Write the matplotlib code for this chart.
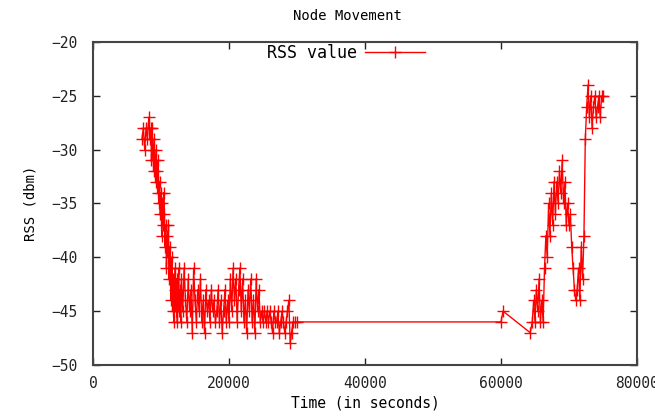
import matplotlib
matplotlib.use("Agg")
import matplotlib.pyplot as plt

title = "Node Movement"
x_label = "Time (in seconds)"
y_label = "RSS (dbm)"
series_label = "RSS value"
x_ticks = [0, 20000, 40000, 60000, 80000]
y_ticks = [-50, -45, -40, -35, -30, -25, -20]

time_s = [
    7200, 7400, 7600, 7800, 8000, 8200, 8300, 8400, 8500, 8600, 8700, 8800, 8900, 9000,
    9100, 9200, 9300, 9400, 9500, 9600, 9700, 9800, 9900, 10000, 10100, 10200, 10300,
    10400, 10500, 10600, 10700, 10800, 10900, 11000, 11100, 11200, 11300, 11400, 11500,
    11600, 11700, 11800, 11900, 12000, 12100, 12200, 12300, 12400, 12500, 12600, 12700,
    12800, 12900, 13000, 13200, 13400, 13600, 13800, 14000, 14200, 14400, 14600, 14800,
    15000, 15200, 15400, 15600, 15800, 16000, 16200, 16400, 16600, 16800, 17000, 17200,
    17400, 17600, 17800, 18000, 18200, 18400, 18600, 18800, 19000, 19200, 19400, 19600,
    19800, 20000, 20200, 20400, 20600, 20800, 21000, 21200, 21400, 21600, 21800, 22000,
    22200, 22400, 22600, 22800, 23000, 23200, 23400, 23600, 23800, 24000, 24200, 24400,
    24600, 24800, 25000, 25200, 25400, 25600, 25800, 26000, 26200, 26400, 26600, 26800,
    27000, 27200, 27400, 27600, 27800, 28000, 28200, 28400, 28600, 28800, 29000, 29200,
    29400, 29700, 30000, 60000, 60300,
    64300, 64600, 64800, 65000, 65200, 65400, 65600, 65800, 66000, 66200,
    66400, 66600, 66800, 67000, 67200, 67400, 67600, 67800, 68000, 68200,
    68400, 68600, 68800, 69000, 69200, 69400, 69600, 69800, 70000, 70200,
    70400, 70600, 70800, 71000, 71200, 71400, 71600, 71800, 72000, 72200,
    72400, 72600, 72800, 73000, 73200, 73400, 73600, 73800, 74000, 74200,
    74400, 74600, 74800, 75000,
]
rss_dbm = [
    -29, -28, -30, -28, -29, -27, -28, -29, -28, -31, -28, -30, -32, -29,
    -31, -33, -30, -32, -34, -31, -35, -33, -36, -34, -38, -35, -37,
    -34, -36, -39, -37, -41, -38, -40, -37, -42, -39, -41, -44,
    -40, -45, -42, -46, -43, -41, -45, -42, -46, -44, -41, -45,
    -43, -46, -42, -45, -41, -44, -46, -42, -45, -43, -47, -41,
    -44, -46, -43, -45, -42, -46, -44, -47, -43, -45, -44, -46,
    -43, -45, -44, -46, -45, -43, -46, -44, -47, -45, -43, -46,
    -44, -46, -42, -45, -41, -44, -42, -46, -43, -41, -45, -42,
    -46, -44, -47, -43, -45, -42, -46, -44, -47, -42, -45, -43,
    -46, -45, -46, -45, -46, -45, -46, -45, -46, -47, -45, -46,
    -46, -45, -47, -46, -45, -46, -47, -46, -45, -44, -48, -47,
    -46, -46, -46, -46, -45,
    -47, -46, -44, -46, -43, -45, -42, -46, -44, -46,
    -41, -38, -40, -35, -38, -34, -37, -33, -36, -33,
    -35, -32, -34, -31, -35, -33, -37, -35, -37, -36,
    -39, -41, -43, -44, -43, -41, -44, -39, -42, -38,
    -29, -26, -24, -27, -25, -28, -26, -25, -27, -26,
    -25, -27, -25, -25,
]

plt.rcParams["font.family"] = ["DejaVu Sans Mono", "DejaVu Sans"]

fig = plt.figure(figsize=(6.55, 4.2), dpi=100)
ax = fig.add_axes([0.142, 0.131, 0.8305, 0.769])
ax.plot(time_s, rss_dbm, color="#ff0000", lw=1.0, marker="+", ms=8, mew=1.0,
        label=series_label)
ax.set_xlim(x_ticks[0], x_ticks[-1])
ax.set_ylim(y_ticks[0], y_ticks[-1])
ax.set_xticks(x_ticks)
ax.set_yticks(y_ticks)
ax.tick_params(direction="in", top=True, right=True, length=5, width=1,
               labelsize=10.5, colors="#222222")
ax.tick_params(axis="x", pad=8)
ax.tick_params(axis="y", pad=11)
for s in ax.spines.values():
    s.set_color("#444444")
    s.set_linewidth(1.5)
ax.set_xlabel(x_label, fontsize=10.5, labelpad=3)
ax.set_ylabel(y_label, fontsize=10, labelpad=10)
fig.text(0.531, 0.963, title, ha="center", va="center", fontsize=10)
leg = ax.legend(loc="upper center", frameon=False, fontsize=12,
                bbox_to_anchor=(0.465, 1.04), handlelength=3.6, markerfirst=False,
                handletextpad=0.5)
fig.savefig("out.png", dpi=100)
